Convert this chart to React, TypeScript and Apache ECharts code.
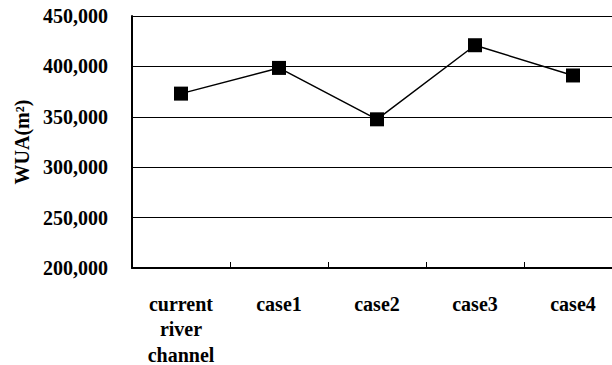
import React, { useEffect, useRef } from "react";
import * as echarts from "echarts";

const categories = ["current\nriver\nchannel", "case1", "case2", "case3", "case4"];
const wuaValues = [373000, 398500, 347500, 421000, 391000];
const yMin = 200000;
const yMax = 450000;
const yStep = 50000;

export default function App() {
  const ref = useRef<HTMLDivElement>(null);
  useEffect(() => {
    const chart = echarts.init(ref.current!, null, { renderer: "svg" });
    const font = "Liberation Serif, Times New Roman, serif";
    chart.setOption({
      animation: false,
      backgroundColor: "#ffffff",
      grid: { left: 132, top: 16, bottom: 97, width: 490, containLabel: false, outerBoundsMode: "none" },
      xAxis: {
        type: "category",
        data: categories,
        boundaryGap: true,
        axisLine: { show: true, lineStyle: { color: "#000", width: 2 } },
        axisTick: { show: true, inside: true, length: 6, interval: 0, lineStyle: { color: "#000", width: 1 } },
        axisLabel: {
          interval: 0,
          margin: 23,
          color: "#000",
          fontFamily: font,
          fontWeight: "bold",
          fontSize: 20,
          lineHeight: 25.5,
        },
        splitLine: { show: false },
      },
      yAxis: {
        type: "value",
        min: yMin,
        max: yMax,
        interval: yStep,
        name: "WUA(m²)",
        nameLocation: "middle",
        nameRotate: 90,
        nameGap: 100,
        nameTextStyle: { color: "#000", fontFamily: font, fontWeight: "bold", fontSize: 20 },
        axisLine: { show: true, lineStyle: { color: "#000", width: 2 } },
        axisTick: { show: false },
        axisLabel: {
          margin: 24,
          color: "#000",
          fontFamily: font,
          fontWeight: "bold",
          fontSize: 20,
          formatter: (v: number) => v.toLocaleString("en-US"),
        },
        splitLine: { show: true, lineStyle: { color: "#000", width: 1.2 } },
      },
      series: [
        {
          type: "line",
          data: wuaValues,
          symbol: "rect",
          symbolSize: 14,
          itemStyle: { color: "#000" },
          lineStyle: { color: "#000", width: 1.5 },
        },
      ],
    });
    return () => chart.dispose();
  }, []);
  return <div ref={ref} style={{ width: 612, height: 365, position: "absolute", left: 0, top: 0 }} />;
}
